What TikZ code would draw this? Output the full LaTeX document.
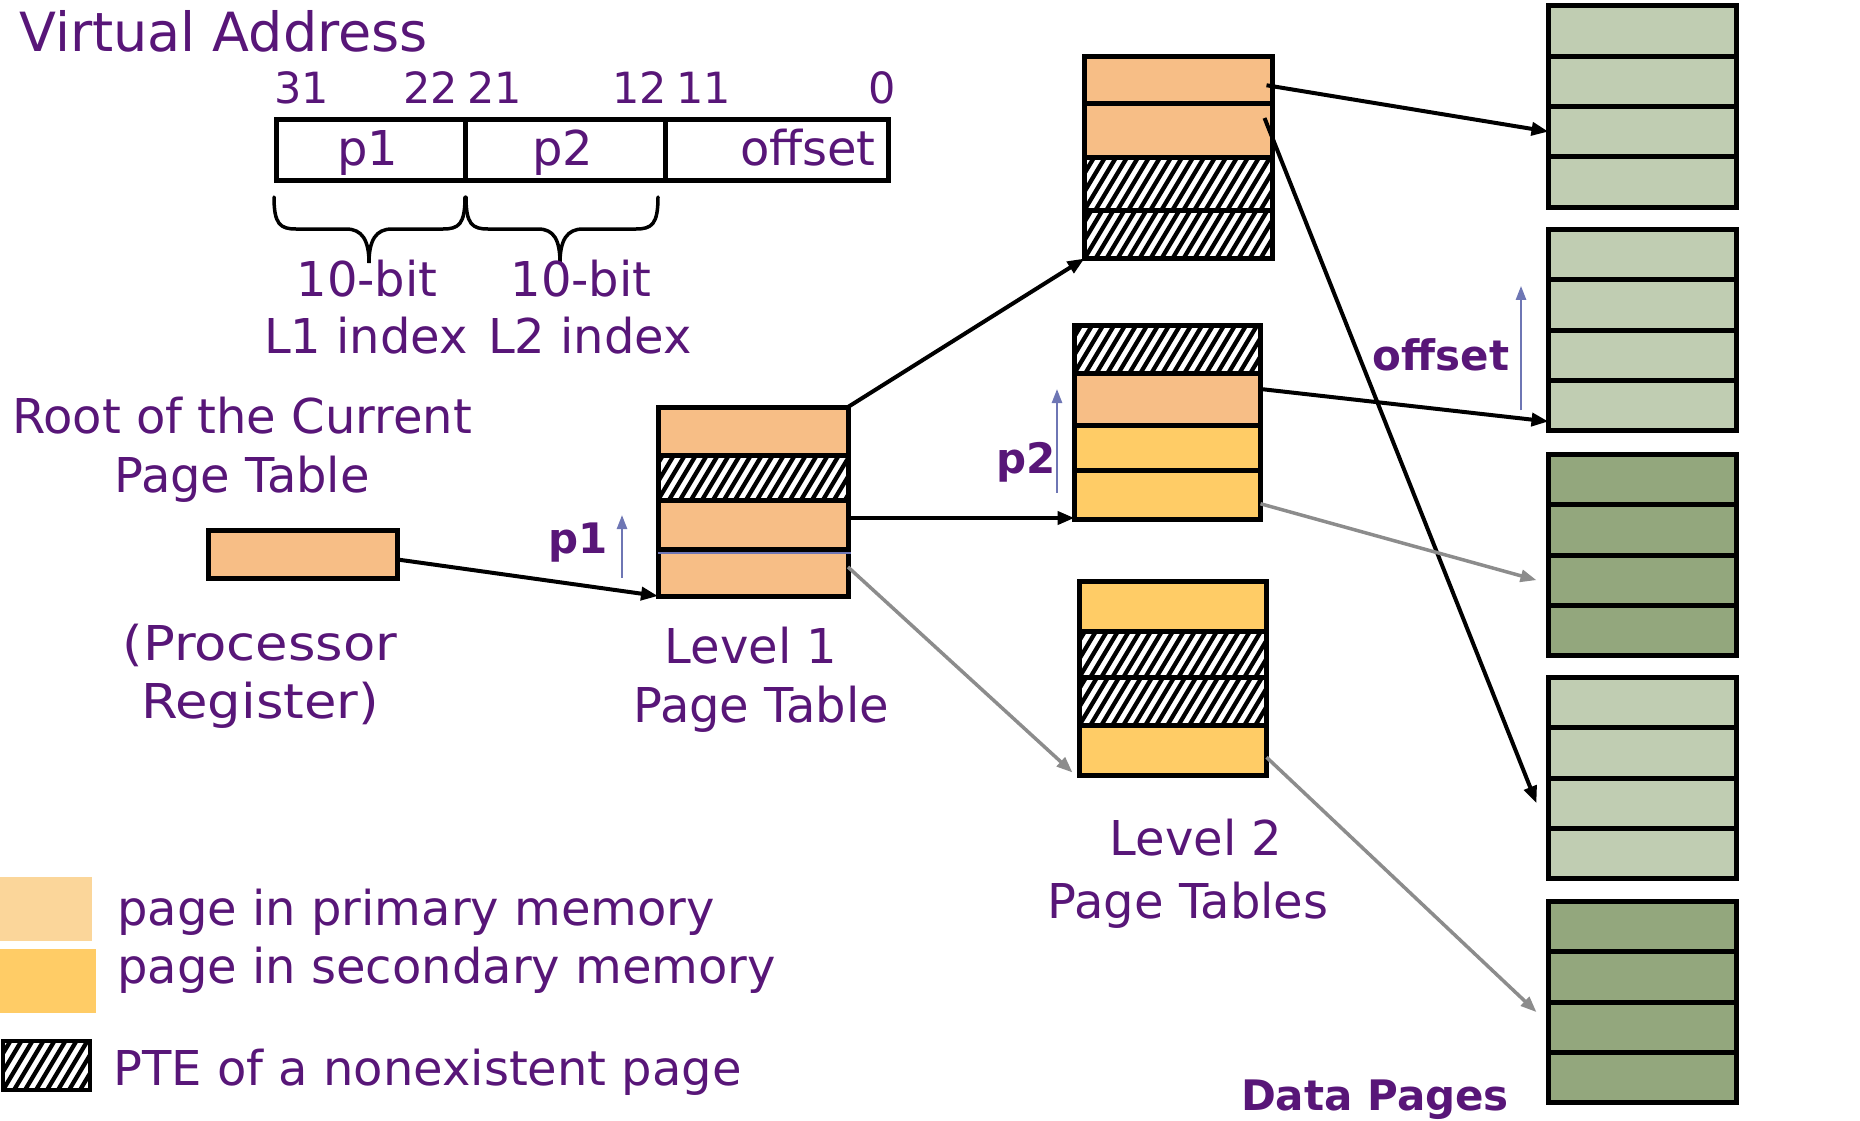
\documentclass[tikz,border=0pt]{standalone}
\usepackage{graphicx}
\usepackage{fontspec}
\setmainfont{DejaVu Sans}
\usetikzlibrary{arrows.meta,calc,fit}
\definecolor{purp}{RGB}{88,22,120}
\definecolor{bluar}{RGB}{110,118,180}
\definecolor{gryar}{RGB}{140,140,140}
\definecolor{dor}{RGB}{247,190,134}
\definecolor{sor}{RGB}{255,204,102}
\definecolor{dgr}{RGB}{192,205,178}
\definecolor{sgr}{RGB}{147,167,125}
\definecolor{legdot}{RGB}{251,214,154}
\tikzset{
  cell/.style={draw=black, line width=5pt, inner sep=0pt, outer sep=0pt},
  lbl/.style={text=purp, inner sep=0pt, anchor=base, font=\fontsize{48}{56}\selectfont},
  blbl/.style={lbl, font=\fontsize{42}{50}\selectfont\bfseries},
  numlbl/.style={lbl, font=\fontsize{43}{50}\selectfont},
  blk/.style={draw=black, line width=4pt, -{Triangle[length=17pt,width=13pt]}},
  gry/.style={draw=gryar, line width=3.5pt, -{Triangle[length=16pt,width=12pt]}},
  blu/.style={draw=bluar, line width=2.5pt, -{Triangle[length=14pt,width=10pt]}},
  bluline/.style={draw=bluar, line width=2.5pt},
  brace/.style={draw=black, line width=3.5pt, line cap=round}
}
% name, x1, y1 (top), x2, y2 (bottom), border width
\newcommand\hatchbox[6]{%
  \node[cell, line width=#6, fill=white, fit={(#2,#3) (#4,#5)}] (#1) {};
  \begin{scope}
    \clip (#2,#3) rectangle (#4,#5);
    \pgfmathsetmacro\hh{0.6*(#5-#3)}
    \foreach \i in {-6,...,19}{\draw[line width=4.3pt] ({#2+\i*11},#5) -- ({#2+\i*11+\hh},#3);}
  \end{scope}
  \draw[line width=#6] (#1.north west) rectangle (#1.south east);
}
\begin{document}
\begin{tikzpicture}[x=1pt,y=-1pt]
\useasboundingbox (0,0) rectangle (1860,1121);

% ---- Virtual address ----
\node[lbl, anchor=base west, font=\fontsize{54}{60}\selectfont] (va) at (19,52) {Virtual Address};
\node[numlbl] (n31) at (302,104) {31};
\node[numlbl] (n22) at (431,104) {22};
\node[numlbl] (n21) at (495,104) {21};
\node[numlbl] (n12) at (640,104) {12};
\node[numlbl] (n11) at (704,104) {11};
\node[numlbl] (n0) at (882,104) {0};
\node[cell, fill=white, fit={(276.5,119.5) (465,180.5)}] (ab1) {};
\node[cell, fill=white, fit={(465,119.5) (665,180.5)}] (ab2) {};
\node[cell, fill=white, fit={(665,119.5) (888.5,180.5)}] (ab3) {};
\node[lbl] (tp1) at (368,165) {p1};
\node[lbl] (tp2) at (563,165) {p2};
\node[lbl, anchor=base east] (toff) at (876,165) {offset};

% braces
\draw[brace] (274,197) .. controls (274,224) and (280,229) .. (296,229) -- (346,229)
  .. controls (362,229) and (369,240) .. (369,263)
  .. controls (369,240) and (376,229) .. (392,229) -- (443,229)
  .. controls (459,229) and (465,224) .. (465,197);
\draw[brace] (466,197) .. controls (466,224) and (472,229) .. (488,229) -- (538,229)
  .. controls (554,229) and (560,240) .. (560,263)
  .. controls (560,240) and (567,229) .. (583,229) -- (636,229)
  .. controls (652,229) and (658,224) .. (658,197);
\node[lbl] (b1) at (367,296) {10-bit};
\node[lbl] (b2) at (581,296) {10-bit};
\node[lbl] (i1) at (366,353) {L1 index};
\node[lbl] (i2) at (590,353) {L2 index};

% ---- root register ----
\node[lbl] (root1) at (242,433) {Root of the Current};
\node[lbl] (root2) at (242,492) {Page Table};
\node[cell, fill=dor, fit={(208.5,530.5) (397.5,578.5)}] (reg) {};
\node[lbl] (proc1) at (260,660) {\scalebox{1.1}[1]{(Processor}};
\node[lbl] (proc2) at (260,718) {\scalebox{1.1}[1]{Register)}};

% ---- level 1 table ----
\node[cell, fill=dor, fit={(658,407) (848,455)}] (l1r1) {};
\hatchbox{l1r2}{658}{455}{848}{500}{5pt}
\node[cell, fill=dor, fit={(658,500) (848,549)}] (l1r3) {};
\node[cell, fill=dor, fit={(658,549) (848,596)}] (l1r4) {};
\draw[bluline] ($(l1r4.north west)+(0,4)$) -- ($(l1r4.north east)+(3,4)$);
\node[blbl] (p1b) at (578,553) {p1};
\node[lbl] (lev1a) at (751,663) {Level 1};
\node[lbl] (lev1b) at (761,722) {Page Table};

% ---- level 2 tables ----
\node[cell, fill=dor, fit={(1084.5,56.5) (1272.5,104)}] (l2a1) {};
\node[cell, fill=dor, fit={(1084.5,104) (1272.5,157)}] (l2a2) {};
\hatchbox{l2a3}{1084.5}{157}{1272.5}{210}{5pt}
\hatchbox{l2a4}{1084.5}{210}{1272.5}{258.5}{5pt}

\hatchbox{l2b1}{1074.5}{325.5}{1260.5}{373}{5pt}
\node[cell, fill=dor, fit={(1074.5,373) (1260.5,425)}] (l2b2) {};
\node[cell, fill=sor, fit={(1074.5,425) (1260.5,470)}] (l2b3) {};
\node[cell, fill=sor, fit={(1074.5,470) (1260.5,519.5)}] (l2b4) {};

\node[cell, fill=sor, fit={(1079.5,581.5) (1266.5,631)}] (l2c1) {};
\hatchbox{l2c2}{1079.5}{631}{1266.5}{677}{5pt}
\hatchbox{l2c3}{1079.5}{677}{1266.5}{725}{5pt}
\node[cell, fill=sor, fit={(1079.5,725) (1266.5,775.5)}] (l2c4) {};

\node[blbl] (p2b) at (1026,473) {p2};
\node[lbl] (lev2a) at (1196,855) {Level 2};
\node[lbl] (lev2b) at (1188,918) {Page Tables};

% ---- data pages ----
\foreach \k/\t/\f in {1/6/dgr,2/229.5/dgr,3/454.5/sgr,4/677.5/dgr,5/901.5/sgr}{
  \foreach \r in {1,...,4}{
    \pgfmathsetmacro\ya{\t+(\r-1)*50.25}
    \pgfmathsetmacro\yb{\t+\r*50.25}
    \node[cell, fill=\f, fit={(1548.5,\ya) (1736.5,\yb)}] (dp\k r\r) {};
  }
}
\node[blbl] (offb) at (1441,370) {offset};
\node[blbl] (dpl) at (1375,1110) {Data Pages};

% ---- arrows ----
\draw[blk] ($(reg.east)+(0,5)$) -- (l1r4.south west);
\draw[blk] (l1r1.north east) -- (l2a4.south west);
\draw[blk] ($(l1r3.east)+(0,-6.5)$) -- ($(l2b4.south west)+(0,-1.5)$);
\draw[gry] ($(l1r4.east)+(0,-5.5)$) -- ($(l2c4.south west)+(-7,-3)$);
\draw[blk] ($(l2a1.east)+(-6,5)$) -- (dp1r3.west);
\draw[blk] ($(l2a2.east)+(-8,-12.5)$) -- ($(dp4r3.west)+(-12,0)$);
\draw[blk] ($(l2b2.east)+(0,-10)$) -- ($(dp2r4.south west)+(0,-9)$);
\draw[gry] ($(l2b4.east)+(0,9)$) -- ($(dp3r3.west)+(-12,0)$);
\draw[gry] ($(l2c4.east)+(0,7)$) -- ($(dp5r3.west)+(-12,-15)$);

\draw[blu] ($(l1r4.west)+(-36,5)$) -- ($(l1r3.west)+(-36,-9.5)$);
\draw[blu] ($(l2b4.west)+(-17.5,-2)$) -- ($(l2b2.west)+(-17.5,-10)$);
\draw[blu] ($(dp2r4.west)+(-27.5,5)$) -- ($(dp2r2.west)+(-27.5,-19)$);

% ---- legend ----
\node[inner sep=0pt, outer sep=0pt, fill=legdot, fit={(0,877) (92,941)}] (sw1) {};
\node[inner sep=0pt, outer sep=0pt, fill=sor, fit={(0,949) (96,1013)}] (sw2) {};
\hatchbox{sw3}{3}{1041}{90}{1090}{4pt}
\node[lbl, anchor=base west] (leg1) at (117,925) {page in primary memory};
\node[lbl, anchor=base west] (leg2) at (117,983) {page in secondary memory};
\node[lbl, anchor=base west] (leg3) at (113,1085) {PTE of a nonexistent page};
\end{tikzpicture}
\end{document}
